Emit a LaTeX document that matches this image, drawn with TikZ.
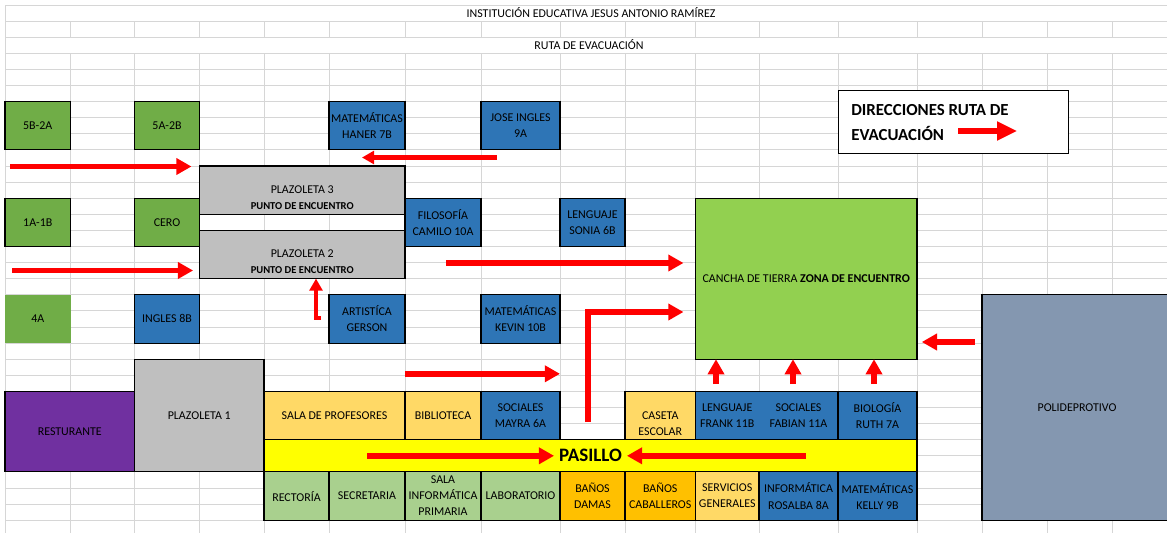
\documentclass[tikz,border=0pt]{standalone}
\usepackage{fontspec}
\setmainfont{Carlito}
\usepackage{xcolor}
\usepackage{tikz}
\usetikzlibrary{arrows.meta}
\usetikzlibrary{positioning}
\usetikzlibrary{calc}

\definecolor{classgreen}{HTML}{70AD47}
\definecolor{classblue}{HTML}{2E75B6}
\definecolor{plazgrey}{HTML}{BFBFBF}
\definecolor{canchagreen}{HTML}{92D050}
\definecolor{poliblue}{HTML}{8497B0}
\definecolor{restpurple}{HTML}{7030A0}
\definecolor{lightorange}{HTML}{FFD966}
\definecolor{darkorange}{HTML}{FFC000}
\definecolor{lightgreen}{HTML}{A9D08E}
\definecolor{pasilloyellow}{HTML}{FFFF00}
\definecolor{gridgrey}{HTML}{D6D6D6}
\definecolor{routered}{HTML}{FF0000}

\tikzset{
  room/.style={draw=black, line width=0.8pt, inner sep=0pt, outer sep=0pt, align=center, font=\fontsize{8.5}{11.4}\selectfont},
  roomsize/.style 2 args={minimum width=#1*0.025cm, minimum height=#2*0.025cm},
  roomtext/.style={inner sep=0pt, align=center, font=\fontsize{8.5}{11.4}\selectfont},
  legendfont/.style={inner sep=0pt, font=\fontsize{12}{14}\selectfont\bfseries},
  gridline/.style={draw=gridgrey, line width=0.6pt},
  route/.style={draw=routered, line width=4pt, -{Triangle[length=0.38cm,width=0.4cm]}},
  thinroute/.style={draw=routered, line width=3pt, -{Triangle[length=0.3cm,width=0.32cm]}}
}

\begin{document}
\begin{tikzpicture}[x=0.025cm, y=-0.025cm]
  \useasboundingbox (0,0) rectangle (1167,533);
  %grid
  \foreach \i in {0,...,32}
    \draw[gridline] (5,5+16.1*\i) -- (1167,5+16.1*\i);
  \foreach \x in {70.5,134.5,199.5,264,329,405,481,560,625,695.5,759,838,917,982,1047,1112}
    \draw[gridline] (\x,21.1) -- (\x,37.2) (\x,53.3) -- (\x,533);
  \draw[gridline] (5,5) -- (5,533);

  %titles
  \node[roomtext] (title) at (591,13) {INSTITUCIÓN EDUCATIVA JESUS ANTONIO RAMÍREZ};
  \node[roomtext] (ruta) at (589,45) {RUTA DE EVACUACIÓN};

  %legend
  \node[draw=black, line width=0.8pt, fill=white, minimum width=230*0.025cm, minimum height=63*0.025cm, anchor=north west] (legend) at (838,90) {};
  \node[legendfont, anchor=base west] (direcciones) at (851,115) {DIRECCIONES RUTA DE};
  \node[legendfont, anchor=base west] (evacuacion) at (851,140) {EVACUACIÓN};

  %top classrooms
  \node[room, fill=classgreen, roomsize={65.5}{48.3}, anchor=north west] (s5b2a) at (5,101.6) {5B-2A};
  \node[room, fill=classgreen, roomsize={65}{48.3}, anchor=north west] (s5a2b) at (134.5,101.6) {5A-2B};
  \node[room, fill=classblue, roomsize={76}{48.3}, anchor=north west] (haner) at (329,101.6) {MATEMÁTICAS\\HANER 7B};
  \node[room, fill=classblue, roomsize={79}{48.3}, anchor=north west] (jose) at (481,101.6) {JOSE INGLES\\9A};

  %plazoletas 3 and 2
  \node[room, fill=plazgrey, roomsize={205.5}{48.3}, anchor=north west] (plaz3) at (199.5,166) {};
  \node[room, fill=plazgrey, roomsize={205.5}{48.3}, below=0.4cm of plaz3] (plaz2) {};
  \node[roomtext] (plaz3txt) at ([yshift=-0.18cm]plaz3.center) {PLAZOLETA 3\\{\bfseries\fontsize{7.5}{9}\selectfont PUNTO DE ENCUENTRO}};
  \node[roomtext] (plaz2txt) at ([yshift=-0.18cm]plaz2.center) {PLAZOLETA 2\\{\bfseries\fontsize{7.5}{9}\selectfont PUNTO DE ENCUENTRO}};

  %middle rows
  \node[room, fill=classgreen, roomsize={65.5}{48.3}, anchor=north west] (s1a1b) at (5,198.2) {1A-1B};
  \node[room, fill=classgreen, roomsize={65}{48.3}, right=1.6cm of s1a1b] (cero) {CERO};
  \node[room, fill=classblue, roomsize={76}{48.3}, anchor=north west] (camilo) at (405,198.2) {FILOSOFÍA\\CAMILO 10A};
  \node[room, fill=classblue, roomsize={65}{48.3}, anchor=north west] (sonia) at (560,198.2) {LENGUAJE\\SONIA 6B};
  \node[room, draw=none, fill=classgreen, roomsize={65.5}{48.3}, anchor=north west] (s4a) at (5,294.8) {4A};
  \node[room, fill=classblue, roomsize={65}{48.3}, right=1.6cm of s4a] (ingles) {INGLES 8B};
  \node[room, fill=classblue, roomsize={76}{48.3}, anchor=north west] (gerson) at (329,294.8) {ARTISTÍCA\\GERSON};
  \node[room, fill=classblue, roomsize={79}{48.3}, right=1.9cm of gerson] (kevin) {MATEMÁTICAS\\KEVIN 10B};

  %zona de encuentro and polideportivo
  \node[room, fill=canchagreen, roomsize={221.5}{161}, anchor=north west] (cancha) at (695.5,198.2) {CANCHA DE TIERRA {\bfseries ZONA DE ENCUENTRO}};
  \node[room, fill=poliblue, roomsize={190}{225.4}, anchor=north west] (poli) at (982,294.8) {POLIDEPROTIVO};

  %lower block
  \node[room, fill=plazgrey, roomsize={129.5}{112.7}, anchor=north west] (plaz1) at (134.5,359.2) {PLAZOLETA 1};
  \node[room, fill=restpurple, roomsize={129.5}{80.5}, anchor=south east] (resturante) at (plaz1.south west) {RESTURANTE};
  \node[room, fill=lightorange, roomsize={141}{48.3}, anchor=north west] (profesores) at (264,391.4) {SALA DE PROFESORES};
  \node[room, fill=lightorange, roomsize={76}{48.3}, right=0pt of profesores] (biblioteca) {BIBLIOTECA};
  \node[room, fill=classblue, roomsize={79}{48.3}, right=0pt of biblioteca] (mayra) {SOCIALES\\MAYRA 6A};
  \node[room, fill=pasilloyellow, roomsize={653}{32.2}, anchor=north west] (pasillo) at (profesores.south west) {};
  \node[font=\fontsize{13.5}{14}\selectfont\bfseries] (pasillotxt) at (pasillo.center) {PASILLO};

  \node[room, fill=lightgreen, roomsize={65}{48.3}, anchor=north west] (rectoria) at (pasillo.south west) {RECTORÍA};
  \node[room, fill=lightgreen, roomsize={76}{48.3}, right=0pt of rectoria] (secretaria) {SECRETARIA};
  \node[room, fill=lightgreen, roomsize={76}{48.3}, right=0pt of secretaria] (salainf) {SALA\\INFORMÁTICA\\PRIMARIA};
  \node[room, fill=lightgreen, roomsize={79}{48.3}, right=0pt of salainf] (laboratorio) {LABORATORIO};
  \node[room, fill=darkorange, roomsize={65}{48.3}, right=0pt of laboratorio] (damas) {BAÑOS\\DAMAS};
  \node[room, fill=darkorange, roomsize={70.5}{48.3}, right=0pt of damas] (caballeros) {BAÑOS\\CABALLEROS};
  \node[room, fill=lightorange, roomsize={63.5}{48.3}, right=0pt of caballeros] (servicios) {SERVICIOS\\GENERALES};
  \node[room, fill=classblue, roomsize={79}{48.3}, right=0pt of servicios] (rosalba) {INFORMÁTICA\\ROSALBA 8A};
  \node[room, fill=classblue, roomsize={79}{48.3}, right=0pt of rosalba] (kelly) {MATEMÁTICAS\\KELLY 9B};

  \node[room, fill=lightorange, roomsize={70.5}{48.3}, anchor=south west] (caseta) at (caballeros.north west |- pasillo.north) {};
  \node[roomtext] (casetatxt) at ([yshift=-0.2cm]caseta.center) {CASETA\\ESCOLAR};
  \node[room, draw=none, fill=classblue, roomsize={63.5}{48.3}, right=0pt of caseta] (frank) {LENGUAJE\\FRANK 11B};
  \node[room, draw=none, fill=classblue, roomsize={79}{48.3}, right=0pt of frank] (fabian) {SOCIALES\\FABIAN 11A};
  \draw[line width=0.8pt] (frank.north west) rectangle (fabian.south east);
  \node[room, fill=classblue, roomsize={79}{48.3}, right=0pt of fabian] (ruth) {BIOLOGÍA\\RUTH 7A};

  %evacuation routes
  \coordinate (r1) at (10,166.5);
  \coordinate (r2) at (497,157.5);
  \coordinate (r2e) at (362,157.5);
  \coordinate (r3) at (12,270.5);
  \coordinate (r4) at (446,263);
  \coordinate (r5) at (316,318);
  \coordinate (r6) at (588,422);
  \coordinate (r7) at (588,312);
  \coordinate (r8) at (367,0);
  \coordinate (r9) at (806,0);
  \coordinate (r10) at (975,342);
  \coordinate (lg) at (958,131);

  \draw[route, shorten >=0.2cm] (r1) -- (r1 -| plaz3.west);
  \draw[thinroute] (r2) -- (r2e);
  \draw[route, shorten >=0.16cm] (r3) -- (r3 -| plaz2.west);
  \draw[route, shorten >=0.3cm] (r4) -- (r4 -| cancha.west);
  \draw[thinroute] ([xshift=0.13cm]r5) -- (r5) -- (r5 |- plaz2.south);
  \draw[route, shorten >=0.3cm] (r6) -- (r7) -- (r7 -| cancha.west);
  \draw[route] ([yshift=0.44cm]biblioteca.north west) -- ([yshift=0.44cm]mayra.north east);
  \draw[route] (r8 |- pasillotxt.west) -- (pasillotxt.west);
  \draw[route] (r9 |- pasillotxt.east) -- (pasillotxt.east);
  \foreach \x in {716,793,874}
    \draw[route] (\x,384) -- (\x,384 |- cancha.south);
  \draw[route, shorten >=0.12cm] (r10) -- (r10 -| cancha.east);
  \draw[route, -{Triangle[length=0.5cm,width=0.45cm]}, shorten >=1.3cm] (lg) -- (lg -| legend.east);
\end{tikzpicture}
\end{document}
